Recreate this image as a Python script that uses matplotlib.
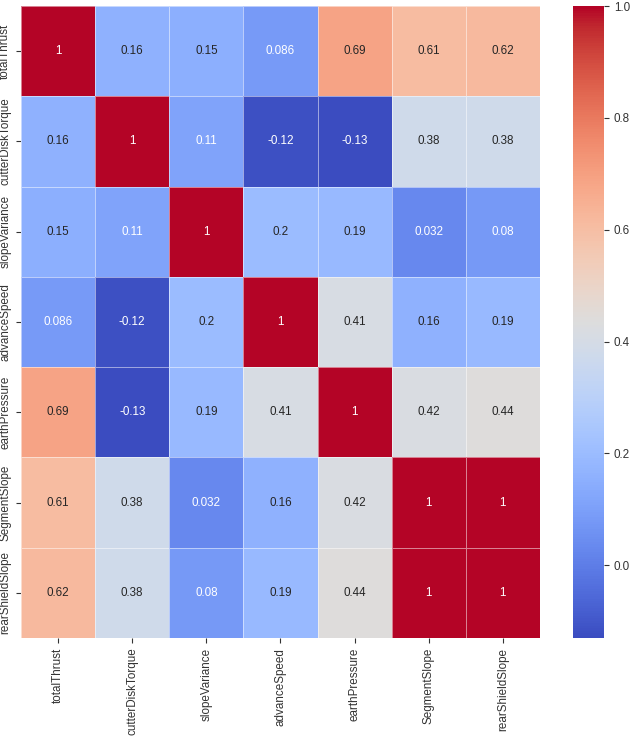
import numpy as np
import pandas as pd
import matplotlib
matplotlib.use("Agg")
import matplotlib.pyplot as plt
import seaborn as sns

labels = ["totalThrust", "cutterDiskTorque", "slopeVariance", "advanceSpeed",
          "earthPressure", "SegmentSlope", "rearShieldSlope"]
row_totalThrust = [1, 0.16, 0.15, 0.086, 0.69, 0.61, 0.62]
row_cutterDiskTorque = [0.16, 1, 0.11, -0.12, -0.13, 0.38, 0.38]
row_slopeVariance = [0.15, 0.11, 1, 0.2, 0.19, 0.032, 0.08]
row_advanceSpeed = [0.086, -0.12, 0.2, 1, 0.41, 0.16, 0.19]
row_earthPressure = [0.69, -0.13, 0.19, 0.41, 1, 0.42, 0.44]
row_SegmentSlope = [0.61, 0.38, 0.032, 0.16, 0.42, 1, 1]
row_rearShieldSlope = [0.62, 0.38, 0.08, 0.19, 0.44, 1, 1]

corr = pd.DataFrame([row_totalThrust, row_cutterDiskTorque, row_slopeVariance,
                     row_advanceSpeed, row_earthPressure, row_SegmentSlope,
                     row_rearShieldSlope], index=labels, columns=labels)

sns.set_theme(style="ticks")
plt.rcParams['font.family'] = ['Liberation Sans', 'DejaVu Sans']

FS = 8.4
fig = plt.figure(figsize=(6.3, 7.37), dpi=100)
ax = fig.add_axes([0.0333, 0.1343, 0.8238, 0.8575])
cax = fig.add_axes([0.9095, 0.1343, 0.0492, 0.8575])
sns.heatmap(corr, annot=True, cmap="coolwarm", linewidths=0.5, linecolor=(1, 1, 1, 0.5),
            ax=ax, cbar_ax=cax, annot_kws={"size": FS})
ax.tick_params(axis='both', labelsize=FS, length=3.5, width=0.8, colors='#333333',
               labelcolor='#333333')
plt.setp(ax.get_yticklabels(), rotation=90, va='center')
plt.setp(ax.get_xticklabels(), rotation=90)
cax.tick_params(labelsize=FS, length=3.5, width=0.8, colors='#333333', labelcolor='#333333')
for s in cax.spines.values():
    s.set_visible(False)
fig.savefig("out.png", dpi=100)
